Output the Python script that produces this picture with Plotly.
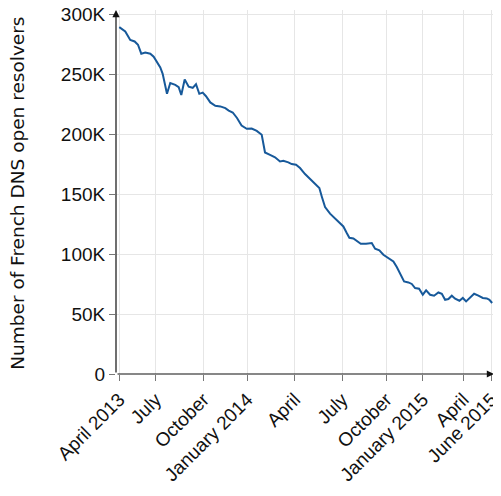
import plotly.graph_objects as go

# sample index (weekly scans) and number of open resolvers
weeks = [0, 1.84, 3.37, 4.72, 5.74, 6.75, 7.98, 9.51, 10.55, 11.56, 12.58, 13.31, 13.93, 14.63,
         15.64, 17.18, 18.22, 19.02, 20.06, 21.29, 22.52, 23.53, 24.54, 25.58, 26.6, 27.91,
         29.45, 30.98, 32.52, 33.56, 34.79, 36.1, 37.5, 39.08, 40.61, 42.15, 43.68, 44.17,
         44.69, 46.23, 47.76, 49.29, 50.31, 51.84, 52.88, 54.2, 55.43, 56.96, 58.5, 60.03,
         61.35, 62.09, 63.1, 64.63, 66.17, 67.7, 68.71, 69.75, 70.55, 71.78, 74.05, 75.67,
         77.42, 78.44, 79.75, 80.98, 82.21, 83.04, 84.05, 85.09, 86.32, 87.33, 88.65, 89.69,
         90.71, 91.93, 93.07, 94.08, 95.31, 96.53, 97.85, 98.9, 99.91, 100.92, 101.96, 102.98,
         104.29, 105.34, 106.35, 107.58, 108.8, 110.12, 111.47, 112.7, 113.5, 114.33]
resolvers = [289700, 286000, 279000, 277700, 275000, 267500, 268500, 267500, 265000, 261000,
             256000, 250700, 243000, 234000, 243000, 241500, 239600, 233000, 246000, 240000,
             239000, 242000, 234000, 235000, 232000, 226800, 224000, 223500, 222000, 220000,
             218400, 213800, 207500, 204800, 205000, 203000, 199800, 193000, 185000, 183000,
             181000, 177500, 178000, 176700, 175300, 174800, 172000, 167000, 162800, 159500,
             155300, 148300, 139400, 133900, 130000, 126300, 123200, 117700, 113800, 113200,
             108800, 108800, 109400, 104600, 103200, 99600, 97400, 95400, 94000, 89300, 82900,
             77300, 76500, 75200, 71800, 71200, 66200, 69800, 66200, 65400, 68100, 67000, 62000,
             62600, 65400, 62900, 61200, 63500, 60600, 63500, 67000, 65400, 63500, 63100, 62000,
             59300]

tick_weeks = [0, 11.17, 25.83, 39.26, 53.83, 68.4, 81.9, 93.07, 105.5, 114.1]
tick_labels = ["April 2013", "July", "October", "January 2014", "April", "July",
               "October", "January 2015", "April", "June 2015"]
y_ticks = [0, 50000, 100000, 150000, 200000, 250000, 300000]
y_labels = ["0", "50K", "100K", "150K", "200K", "250K", "300K"]
y_title = "Number of French DNS open resolvers"

x_range = [-1.0, 114.9]
y_range = [0, 304000]

FAM = "Liberation Sans"
fig = go.Figure()
fig.add_trace(go.Scatter(x=weeks, y=resolvers, mode="lines",
                         line=dict(color="#17599a", width=2), hoverinfo="skip"))

# the page body has an 8px margin, so the figure is sized to fit the window
fig.update_layout(
    width=493, height=488,
    margin=dict(l=108, r=7, t=2, b=122),
    paper_bgcolor="white", plot_bgcolor="white",
    showlegend=False,
    font=dict(family=FAM, size=19, color="#111"),
)
fig.update_xaxes(range=x_range, tickvals=tick_weeks, ticktext=tick_labels, tickangle=-45,
                 automargin=False, ticklabeloverflow="allow",
                 showgrid=True, gridcolor="#e6e6e6", gridwidth=1, zeroline=False,
                 showline=False, ticks="outside", ticklen=6, tickcolor="#777",
                 tickfont=dict(family=FAM, size=19, color="#111"))
fig.update_yaxes(range=y_range, tickvals=y_ticks, ticktext=y_labels,
                 automargin=False, ticklabeloverflow="allow",
                 showgrid=True, gridcolor="#e6e6e6", gridwidth=1, zeroline=False,
                 showline=False, ticks="outside", ticklen=6, tickcolor="#777",
                 tickfont=dict(family=FAM, size=19, color="#111"))

fig.add_annotation(text=y_title, xref="paper", yref="paper", x=0, y=0.495,
                   xshift=-98, textangle=-90, showarrow=False,
                   xanchor="center", yanchor="middle",
                   font=dict(family="DejaVu Sans", size=18.5, color="#111"))

# axis lines with arrowheads
fig.add_annotation(x=x_range[1], y=0, ax=x_range[0], ay=0, xref="x", yref="y",
                   axref="x", ayref="y", showarrow=True, arrowhead=2, arrowsize=1.2,
                   arrowwidth=1.2, arrowcolor="#111", text="")
fig.add_annotation(x=x_range[0], y=y_range[1], ax=x_range[0], ay=0, xref="x", yref="y",
                   axref="x", ayref="y", showarrow=True, arrowhead=2, arrowsize=1.2,
                   arrowwidth=1.2, arrowcolor="#111", text="")

fig.write_html("out.html")
